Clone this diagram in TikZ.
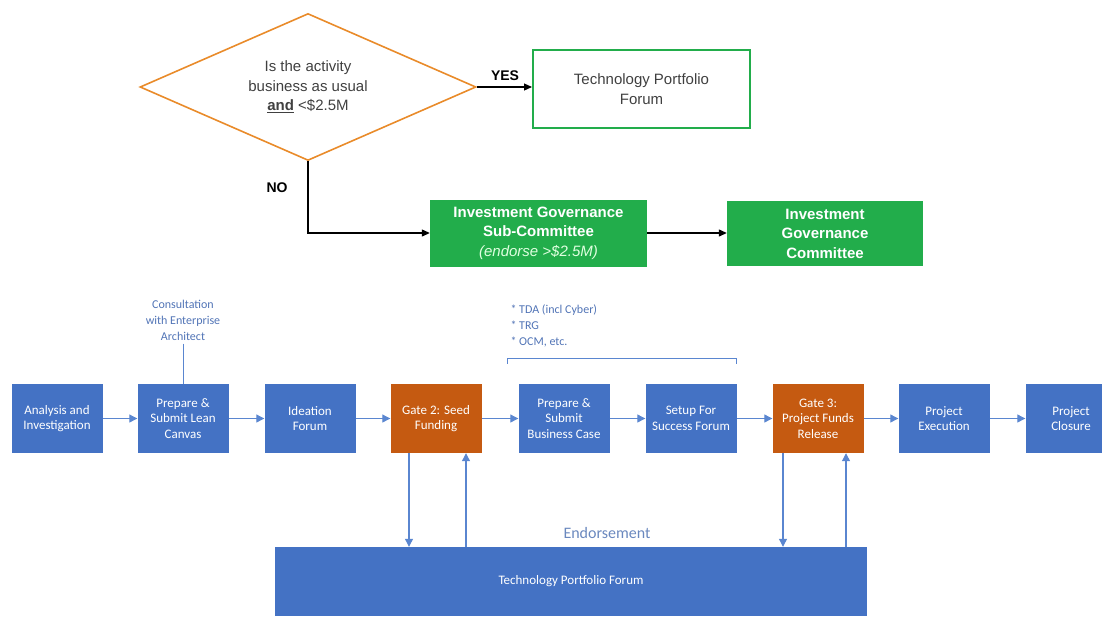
\documentclass[tikz,border=0pt]{standalone}
\usepackage{fontspec}
\setmainfont{Liberation Sans}
\newfontfamily\calibri{Carlito}
\usetikzlibrary{shapes.geometric,arrows.meta}

\definecolor{bleuBoite}{HTML}{4472C4}
\definecolor{orangeGate}{HTML}{C55A11}
\definecolor{vertBoite}{HTML}{22AD4B}
\definecolor{orangeLosange}{HTML}{E98B2A}
\definecolor{bleuTexte}{HTML}{5174B6}
\definecolor{bleuEndos}{HTML}{6A88BE}
\definecolor{bleuFleche}{HTML}{5A86D0}
\definecolor{grisTexte}{HTML}{404040}

\begin{document}
\begin{tikzpicture}[x=1pt, y=-1pt,
    etape/.style={rectangle, fill=bleuBoite, text=white, minimum width=91pt, minimum height=69pt,
        align=center, inner sep=2pt, font=\calibri\fontsize{13}{15.5}\selectfont},
    porte/.style={etape, fill=orangeGate},
    comite/.style={rectangle, fill=vertBoite, text=white, minimum height=67pt, align=center,
        font=\bfseries\fontsize{15}{19.5}\selectfont},
    flux/.style={bleuFleche, line width=1.1pt, -{Triangle[length=8pt,width=8pt]}},
    fleche/.style={black, line width=1.2pt, -{Triangle[length=8pt,width=7pt]}},
    note/.style={text=bleuTexte, font=\calibri\fontsize{12}{16}\selectfont}]
    \useasboundingbox (0,0) rectangle (1102,616);

    % Partie haute - decision
    \node[diamond, draw=orangeLosange, line width=1.6pt, aspect=2.29, minimum width=336pt,
        minimum height=147pt, align=center, text=grisTexte, inner sep=0pt,
        font=\fontsize{15}{19.5}\selectfont] (question) at (308,87)
        {Is the activity\\business as usual\\\underline{\textbf{and}} <\$2.5M};
    \node[rectangle, draw=vertBoite, line width=2pt, minimum width=217pt, minimum height=78pt,
        align=center, text=grisTexte, font=\fontsize{15}{19.5}\selectfont] (tpfHaut) at (641.5,89)
        {Technology Portfolio\\Forum};
    \node[comite, minimum width=217pt] (igsc) at (538.5,233)
        {Investment Governance\\Sub-Committee\\{\mdseries\itshape\color{green!12!white}(endorse >\$2.5M)}};
    \node[comite, minimum width=196pt, minimum height=65pt] (igc) at (825,233.5)
        {Investment\\Governance\\Committee};

    % Fleches noires
    \draw[fleche] (question.east) -- (question.east -| tpfHaut.west);
    \node[font=\bfseries\fontsize{14}{16}\selectfont] (oui) at (505,76) {YES};
    \draw[fleche] (question.south) |- (igsc.west);
    \node[font=\bfseries\fontsize{14}{16}\selectfont] (non) at (277,188) {NO};
    \draw[fleche] (igsc.east) -- (igsc.east -| igc.west);

    % Chaine des etapes
    \node[etape] (analyse) at (57,418.5) {Analysis and\\Investigation};
    \node[etape] (canvas) at (183,418.5) {Prepare \&\\Submit Lean\\Canvas};
    \node[etape] (ideation) at (310,418.5) {Ideation\\Forum};
    \node[porte] (gate2) at (436,418.5) {Gate 2: Seed\\Funding};
    \node[etape] (dossier) at (564,418.5) {Prepare \&\\Submit\\Business Case};
    \node[etape] (succes) at (691,418.5) {Setup For\\Success Forum};
    \node[porte] (gate3) at (818,418.5) {Gate 3:\\Project Funds\\Release};
    \node[etape] (execution) at (944,418.5) {Project\\Execution};
    \node[etape] (cloture) at (1071,418.5) {Project\\Closure};

    \draw[flux] (analyse) -- (canvas);
    \draw[flux] (canvas) -- (ideation);
    \draw[flux] (ideation) -- (gate2);
    \draw[flux] (gate2) -- (dossier);
    \draw[flux] (dossier) -- (succes);
    \draw[flux] (succes) -- (gate3);
    \draw[flux] (gate3) -- (execution);
    \draw[flux] (execution) -- (cloture);

    % Annotations
    \node[note, align=center] (consult) at (183,320) {Consultation\\with Enterprise\\Architect};
    \draw[bleuFleche, line width=1pt] (consult.south) -- (canvas.north);
    \node[note, align=left, anchor=west] (revues) at (507,326) {* TDA (incl Cyber)\\* TRG\\* OCM, etc.};
    \draw[bleuFleche, line width=1pt]
        ([xshift=-11pt,yshift=20pt]dossier.north west) -- ([xshift=-11pt,yshift=25pt]dossier.north west)
        -- ([yshift=25pt]succes.north east) -- ([yshift=20pt]succes.north east);

    % Forum du bas
    \node[etape, minimum width=592pt] (tpfBas) at (571,581.5) {Technology Portfolio Forum};
    \node[note, text=bleuEndos, font=\calibri\fontsize{16}{18}\selectfont] (endos) at (607,533) {Endorsement};
    \draw[flux] ([xshift=-27pt]gate2.south) -- ([xshift=-27pt]gate2.south |- tpfBas.north);
    \draw[flux] ([xshift=30pt]gate2.south |- tpfBas.north) -- ([xshift=30pt]gate2.south);
    \draw[flux] ([xshift=-35pt]gate3.south) -- ([xshift=-35pt]gate3.south |- tpfBas.north);
    \draw[flux] ([xshift=28pt]gate3.south |- tpfBas.north) -- ([xshift=28pt]gate3.south);
\end{tikzpicture}
\end{document}
